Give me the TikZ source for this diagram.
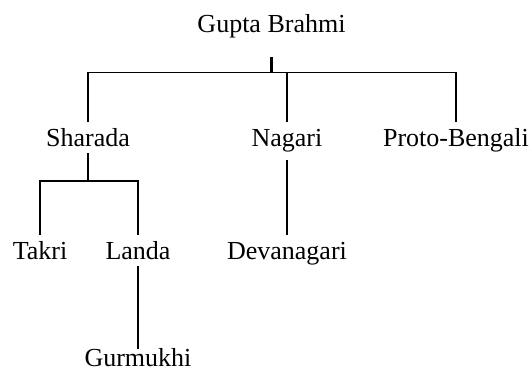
\documentclass[tikz,border=0pt]{standalone}
\usepackage{fontspec}
\setmainfont{Liberation Serif}
\begin{document}
\begin{tikzpicture}[x=1pt,y=1pt,
  lbl/.style={anchor=base,inner sep=0pt,font=\fontsize{26}{30}\selectfont},
  conn/.style={line width=1.6pt,line cap=rect}]
\useasboundingbox (0,0) rectangle (531,-372);
% nodes
\node[lbl] (gb) at (271.5,-32) {Gupta Brahmi};
\node[lbl] (sh) at (88,-146) {Sharada};
\node[lbl] (na) at (287,-146) {Nagari};
\node[lbl] (pb) at (456,-146) {Proto-Bengali};
\node[lbl] (ta) at (40,-259) {Takri};
\node[lbl] (la) at (138,-259) {Landa};
\node[lbl] (de) at (287,-259) {Devanagari};
\node[lbl] (gu) at (138,-366) {Gurmukhi};
% junctions
\coordinate (j0) at (gb.base |- 0,-72.5);
\coordinate (j1) at (sh.base |- 0,-181);
% Gupta Brahmi -> children
\draw[conn] ([yshift=25pt]sh.base) |- (j0) -| ([yshift=25pt]pb.base);
\draw[conn] ([yshift=25pt]na.base) -- (na.base |- j0);
\draw[conn,line width=2.4pt,line cap=butt] ([yshift=-25pt]gb.base) -- ([yshift=-0.4pt]j0);
% Sharada -> children
\draw[conn] ([yshift=-8pt]sh.base) -- (j1);
\draw[conn] ([yshift=25pt]ta.base) |- (j1) -| ([yshift=25pt]la.base);
% Nagari -> Devanagari
\draw[conn] ([yshift=-15pt]na.base) -- ([yshift=25pt]de.base);
% Landa -> Gurmukhi
\draw[conn] ([yshift=-8pt]la.base) -- ([yshift=18pt]gu.base);
\end{tikzpicture}
\end{document}
